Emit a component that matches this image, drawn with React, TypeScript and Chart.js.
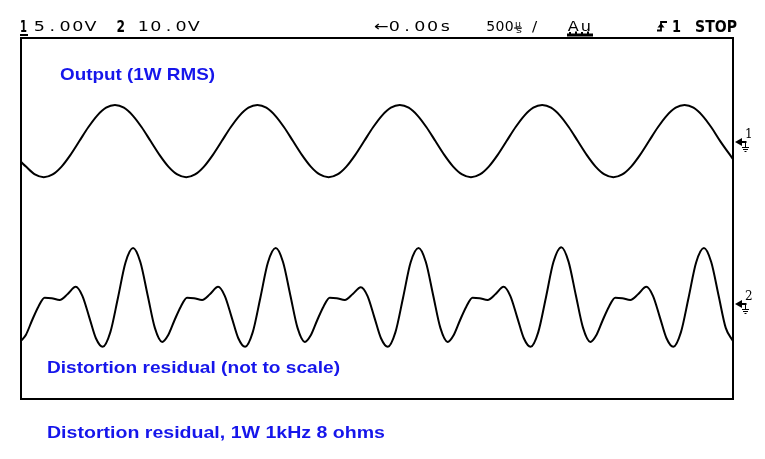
import React, { useEffect, useRef } from "react";
import { Chart, registerables } from "chart.js";

Chart.register(...registerables);

// Channel 1: amplifier output (time in ms, volts at 5 V/div)
const outputTimeMs = [
  0, 0.035, 0.0975, 0.16, 0.2225, 0.285, 0.3475, 0.41, 0.4725, 0.535, 0.5975, 0.66, 0.7225, 0.785, 0.8475, 0.91, 0.9725,
  1.035, 1.0975, 1.16, 1.2225, 1.285, 1.3475, 1.41, 1.4725, 1.535, 1.5975, 1.66, 1.7225, 1.785, 1.8475, 1.91, 1.9725,
  2.035, 2.0975, 2.16, 2.2225, 2.285, 2.3475, 2.41, 2.4725, 2.535, 2.5975, 2.66, 2.7225, 2.785, 2.8475, 2.91, 2.9725,
  3.035, 3.0975, 3.16, 3.2225, 3.285, 3.3475, 3.41, 3.4725, 3.535, 3.5975, 3.66, 3.7225, 3.785, 3.8475, 3.91, 3.9725,
  4.035, 4.0975, 4.16, 4.2225, 4.285, 4.3475, 4.41, 4.4725, 4.535, 4.5975, 4.66, 4.7225, 4.785, 4.8475, 4.91, 5.0,
];
const outputVolts = [
  -2.2, -2.73, -3.6, -3.9, -3.6, -2.73, -1.43, 0.1, 1.63, 2.93, 3.8, 4.1, 3.8, 2.93, 1.63, 0.1, -1.43,
  -2.73, -3.6, -3.9, -3.6, -2.73, -1.43, 0.1, 1.63, 2.93, 3.8, 4.1, 3.8, 2.93, 1.63, 0.1, -1.43,
  -2.73, -3.6, -3.9, -3.6, -2.73, -1.43, 0.1, 1.63, 2.93, 3.8, 4.1, 3.8, 2.93, 1.63, 0.1, -1.43,
  -2.73, -3.6, -3.9, -3.6, -2.73, -1.43, 0.1, 1.63, 2.93, 3.8, 4.1, 3.8, 2.93, 1.63, 0.1, -1.43,
  -2.73, -3.6, -3.9, -3.6, -2.73, -1.43, 0.1, 1.63, 2.93, 3.8, 4.1, 3.8, 2.93, 1.63, 0.1, -1.9,
];

// Channel 2: distortion residual (time in ms, volts at 10 V/div, not to scale)
const residualTimeMs = [
  0, 0.035, 0.078, 0.122, 0.166, 0.215, 0.272, 0.328, 0.384, 0.431, 0.479, 0.526, 0.574, 0.627, 0.681, 0.734,
  0.787, 0.838, 0.889, 0.94, 0.991, 1.035, 1.078, 1.122, 1.166, 1.215, 1.272, 1.328, 1.384, 1.431, 1.479, 1.526, 1.574, 1.627, 1.681, 1.734,
  1.789, 1.84, 1.891, 1.942, 1.993, 2.037, 2.08, 2.124, 2.168, 2.217, 2.274, 2.33, 2.386, 2.433, 2.481, 2.528, 2.576, 2.629, 2.683, 2.736,
  2.792, 2.843, 2.894, 2.945, 2.996, 3.04, 3.083, 3.127, 3.171, 3.22, 3.277, 3.333, 3.389, 3.436, 3.484, 3.531, 3.579, 3.632, 3.686, 3.739,
  3.794, 3.845, 3.896, 3.947, 3.998, 4.042, 4.085, 4.129, 4.173, 4.222, 4.279, 4.335, 4.391, 4.438, 4.486, 4.533, 4.581, 4.634, 4.688, 4.741,
  4.796, 4.847, 4.898, 4.949, 5.0,
];
const residualVolts = [
  -8.2, -6.8, -3.6, -0.6, 1.4, 1.3, 0.9, 2.2, 3.8, 1.8, -2.9, -7.6, -9.5, -6.3, 1.4, 9.2,
  12.4, 9.3, 2.0, -5.3, -8.4, -6.8, -3.6, -0.6, 1.4, 1.3, 0.9, 2.2, 3.8, 1.8, -2.9, -7.6, -9.5, -6.3, 1.4, 9.2,
  12.4, 9.3, 2.0, -5.3, -8.4, -6.8, -3.6, -0.6, 1.4, 1.3, 0.9, 2.2, 3.7, 1.8, -2.9, -7.6, -9.5, -6.3, 1.4, 9.2,
  12.4, 9.3, 2.0, -5.3, -8.4, -6.8, -3.6, -0.6, 1.4, 1.3, 0.9, 2.2, 3.8, 1.8, -2.9, -7.6, -9.5, -6.3, 1.4, 9.3,
  12.6, 9.4, 2.0, -5.3, -8.4, -6.8, -3.6, -0.6, 1.4, 1.3, 0.9, 2.2, 3.8, 1.8, -2.9, -7.6, -9.5, -6.3, 1.4, 9.2,
  12.4, 9.3, 2.0, -5.3, -8.2,
];

// Screen texts
const ch1Scale = "5.00V";
const ch2Scale = "10.0V";
const timeDelay = "\u21900.00s";
const timeBase = "500";
const acqMode = "Au";
const runState = "STOP";
const outputLabel = "Output (1W RMS)";
const residualLabel = "Distortion residual (not to scale)";
const captionLabel = "Distortion residual, 1W 1kHz 8 ohms";

const BLUE = "rgb(22,22,235)";

function fitText(
  ctx: CanvasRenderingContext2D,
  text: string,
  x: number,
  baseline: number,
  width: number,
  font: string,
  color: string
) {
  ctx.save();
  ctx.font = font;
  ctx.fillStyle = color;
  ctx.textBaseline = "alphabetic";
  ctx.textAlign = "left";
  const w = ctx.measureText(text).width || 1;
  ctx.translate(x, baseline);
  ctx.scale(width / w, 1);
  ctx.fillText(text, 0, 0);
  ctx.restore();
}

// draw text in equal cells, like the scope's fixed-pitch screen font
function cellText(
  ctx: CanvasRenderingContext2D,
  text: string,
  x: number,
  baseline: number,
  cell: number,
  sx: number,
  font: string
) {
  ctx.save();
  ctx.font = font;
  ctx.fillStyle = "#000";
  ctx.textBaseline = "alphabetic";
  ctx.textAlign = "center";
  const chars = Array.from(text);
  chars.forEach((c, i) => {
    ctx.save();
    ctx.translate(x + cell * i + cell / 2, baseline);
    ctx.scale(sx, 1);
    ctx.fillText(c, 0, 0);
    ctx.restore();
  });
  ctx.restore();
}

function drawGroundMarker(ctx: CanvasRenderingContext2D, label: string, y: number) {
  ctx.save();
  ctx.fillStyle = "#000";
  ctx.strokeStyle = "#000";
  ctx.beginPath();
  ctx.moveTo(735, y);
  ctx.lineTo(742, y - 4);
  ctx.lineTo(742, y + 4);
  ctx.closePath();
  ctx.fill();
  ctx.lineWidth = 2;
  ctx.beginPath();
  ctx.moveTo(740, y);
  ctx.lineTo(746.5, y);
  ctx.stroke();
  ctx.lineWidth = 1;
  ctx.beginPath();
  ctx.moveTo(745.5, y);
  ctx.lineTo(745.5, y + 5);
  ctx.moveTo(742, y + 5.5);
  ctx.lineTo(749, y + 5.5);
  ctx.moveTo(743, y + 7.5);
  ctx.lineTo(748, y + 7.5);
  ctx.moveTo(744.5, y + 9.5);
  ctx.lineTo(746.5, y + 9.5);
  ctx.stroke();
  ctx.font = "12px 'DejaVu Serif'";
  ctx.textBaseline = "alphabetic";
  ctx.fillText(label, 745, y - 4);
  ctx.restore();
}

const scopePlugin = {
  id: "scopeScreen",
  afterDraw(chart: any) {
    const ctx: CanvasRenderingContext2D = chart.ctx;
    const a = chart.chartArea;
    ctx.save();
    // frame
    ctx.strokeStyle = "#000";
    ctx.lineWidth = 2;
    ctx.strokeRect(a.left, a.top, a.right - a.left, a.bottom - a.top);

    // header
    const f = "14px 'DejaVu Sans'";
    const bold = "bold 15px 'DejaVu Sans'";
    fitText(ctx, "1", 20, 31.5, 7, bold, "#000");
    ctx.fillStyle = "#000";
    ctx.fillRect(20, 34, 8, 2);
    cellText(ctx, ch1Scale, 33, 31, 12.8, 1.25, f);
    fitText(ctx, "2", 116.5, 31.5, 8.5, bold, "#000");
    cellText(ctx, ch2Scale, 137, 31, 12.6, 1.25, f);
    cellText(ctx, timeDelay, 375, 31, 12.8, 1.25, f);
    cellText(ctx, timeBase, 486, 31, 9.3, 1.0, f);
    fitText(ctx, "\u00b5", 515, 26.5, 6, "9px 'DejaVu Sans'", "#000");
    ctx.fillRect(514, 27.5, 8, 1);
    fitText(ctx, "s", 516, 33, 6, "9px 'DejaVu Sans'", "#000");
    cellText(ctx, "/", 528, 31, 13, 1.1, f);
    cellText(ctx, acqMode, 567, 31, 12.5, 1.15, f);
    ctx.fillRect(567, 33.5, 26, 3);
    ctx.fillRect(569, 32, 2, 2);
    ctx.fillRect(575, 31.5, 2, 2.5);
    ctx.fillRect(581, 32, 2, 2);
    ctx.fillRect(587, 31.5, 2, 2.5);
    // trigger edge symbol
    ctx.lineWidth = 1.8;
    ctx.beginPath();
    ctx.moveTo(657, 30.5);
    ctx.lineTo(661, 30.5);
    ctx.lineTo(661, 22);
    ctx.lineTo(667, 22);
    ctx.stroke();
    ctx.beginPath();
    ctx.moveTo(661, 23);
    ctx.lineTo(657.5, 27.5);
    ctx.lineTo(664.5, 27.5);
    ctx.closePath();
    ctx.fill();
    fitText(ctx, "1", 672, 31.5, 9, bold, "#000");
    fitText(ctx, runState, 695, 31.5, 42, "bold 15px 'DejaVu Sans'", "#000");

    // ground markers
    drawGroundMarker(ctx, "1", 142);
    drawGroundMarker(ctx, "2", 304);

    // annotations
    const blueFont = "bold 17px 'Liberation Sans'";
    fitText(ctx, outputLabel, 60, 80, 155, blueFont, BLUE);
    fitText(ctx, residualLabel, 47, 373, 293, blueFont, BLUE);
    fitText(ctx, captionLabel, 47, 438, 338, blueFont, BLUE);
    ctx.restore();
  },
};

export default function App() {
  const ref = useRef<HTMLCanvasElement | null>(null);
  useEffect(() => {
    if (!ref.current) return;
    const chart = new Chart(ref.current, {
      type: "line",
      data: {
        datasets: [
          {
            label: "Output",
            data: outputTimeMs.map((t, i) => ({ x: t, y: outputVolts[i] })),
            yAxisID: "y1",
            borderColor: "#000",
            borderWidth: 2,
            pointRadius: 0,
            cubicInterpolationMode: "monotone",
            fill: false,
          },
          {
            label: "Residual",
            data: residualTimeMs.map((t, i) => ({ x: t, y: residualVolts[i] })),
            yAxisID: "y2",
            borderColor: "#000",
            borderWidth: 2,
            pointRadius: 0,
            cubicInterpolationMode: "monotone",
            fill: false,
          },
        ],
      },
      options: {
        responsive: false,
        animation: false,
        events: [],
        layout: { padding: { left: 21, top: 38, right: 32, bottom: 60 } },
        plugins: {
          legend: { display: false },
          title: { display: false },
          tooltip: { enabled: false },
        },
        scales: {
          x: { type: "linear", min: 0, max: 5, display: false },
          y1: { type: "linear", min: -28.5, max: 11.53, display: false },
          y2: { type: "linear", min: -21.07, max: 59.0, display: false },
        },
      },
      plugins: [scopePlugin],
    });
    return () => chart.destroy();
  }, []);
  return (
    <div style={{ position: "absolute", left: 0, top: 0, width: 765, height: 459, background: "#fff" }}>
      <canvas ref={ref} width={765} height={459} style={{ display: "block" }} />
    </div>
  );
}
